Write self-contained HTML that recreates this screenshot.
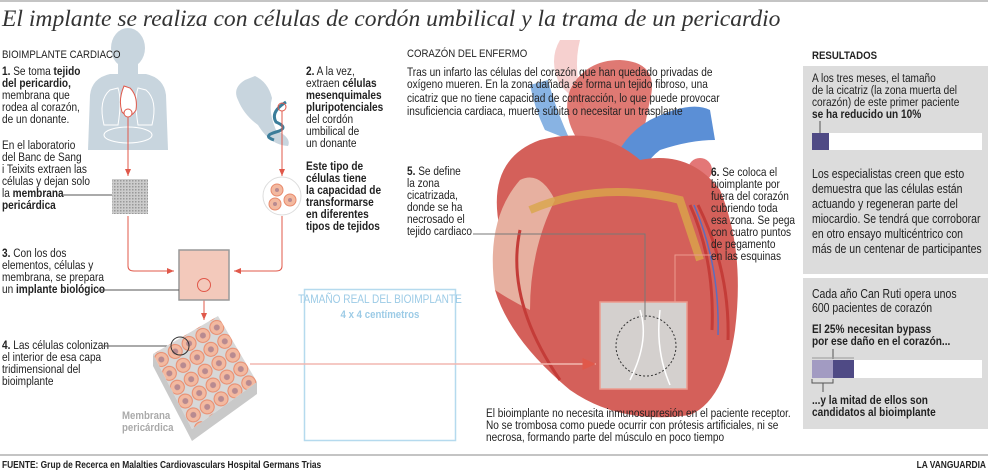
<!DOCTYPE html>
<html><head><meta charset="utf-8"><style>
body{margin:0;background:#fff;width:988px;height:471px;overflow:hidden}
svg{display:block}
text{font-family:"Liberation Sans",sans-serif;fill:#222}
.b{font-weight:bold}
</style></head><body>
<svg width="988" height="471" viewBox="0 0 988 471" xmlns="http://www.w3.org/2000/svg">
<defs>
<pattern id="hatch" width="3" height="3" patternUnits="userSpaceOnUse"><rect width="3" height="3" fill="#ccc"/><rect width="1.5" height="1.5" fill="#999"/></pattern>
<pattern id="cells" width="16" height="16" patternUnits="userSpaceOnUse" patternTransform="rotate(-30)"><rect width="16" height="16" fill="#d8d8d8"/><circle cx="8" cy="8" r="7" fill="#f3b9a0" stroke="#e88a6c"/><circle cx="8" cy="8" r="3" fill="#b88a90"/></pattern>
<marker id="ar" markerWidth="8" markerHeight="8" refX="7" refY="4" orient="auto"><path d="M0,1 L7,4 L0,7z" fill="#e0584a"/></marker>
<marker id="ap" markerWidth="10" markerHeight="10" refX="9" refY="5" orient="auto"><path d="M0,1 L9,5 L0,9z" fill="#e0584a"/></marker>
</defs>
<line x1="0" y1="1" x2="988" y2="1" stroke="#888"/>
<text x="2" y="26" style="font-family:'Liberation Serif',serif;font-style:italic;font-size:23.6px;fill:#333">El implante se realiza con células de cordón umbilical y la trama de un pericardio</text>

<g fill="#c8d5de">
<ellipse cx="128" cy="48" rx="17" ry="20"/>
<rect x="118" y="62" width="20" height="14"/>
<path d="M88,150 L90,95 Q92,78 110,74 L146,74 Q164,78 166,95 L168,150z"/>
</g>
<g fill="none" stroke="#fff" stroke-width="1">
<path d="M110,90 Q98,100 104,125 L118,125 Q122,100 118,88z"/><path d="M146,90 Q158,100 152,125 L138,125 Q134,100 138,88z"/>
<ellipse cx="128" cy="135" rx="24" ry="8"/>
</g>
<path d="M124,86 Q118,100 122,112 Q130,120 136,110 Q138,96 130,88z" fill="#fff" stroke="#e0584a"/>
<circle cx="128" cy="113" r="4" fill="#fff" stroke="#e0584a"/>
<path d="M245,80 Q232,88 238,100 Q244,115 258,125 Q270,145 288,146 Q292,138 276,130 Q268,112 272,98 Q268,82 255,76z" fill="#c8d5de"/>
<path d="M286,102 Q270,112 276,122 Q290,128 276,132 Q262,136 274,140" fill="none" stroke="#3b7d9a" stroke-width="3"/>
<circle cx="282" cy="107" r="4" fill="none" stroke="#e0584a"/>

<g transform="matrix(0.84 0 0 1 0.32 0)">
<text font-size="11.5"><tspan x="2" y="58">BIOIMPLANTE CARDIACO</tspan></text>
<text font-size="12">
<tspan x="2" y="75"><tspan class="b">1.</tspan> Se toma <tspan class="b">tejido</tspan></tspan>
<tspan x="2" y="87" class="b">del pericardio,</tspan>
<tspan x="2" y="99">membrana que</tspan>
<tspan x="2" y="111">rodea al corazón,</tspan>
<tspan x="2" y="123">de un donante.</tspan>
<tspan x="2" y="149">En el laboratorio</tspan>
<tspan x="2" y="161">del Banc de Sang</tspan>
<tspan x="2" y="173">i Teixits extraen las</tspan>
<tspan x="2" y="185">células y dejan solo</tspan>
<tspan x="2" y="197">la <tspan class="b">membrana</tspan></tspan>
<tspan x="2" y="209" class="b">pericárdica</tspan>
<tspan x="2" y="257"><tspan class="b">3.</tspan> Con los dos</tspan>
<tspan x="2" y="269">elementos, células y</tspan>
<tspan x="2" y="281">membrana, se prepara</tspan>
<tspan x="2" y="293">un <tspan class="b">implante biológico</tspan></tspan>
<tspan x="2" y="349"><tspan class="b">4.</tspan> Las células colonizan</tspan>
<tspan x="2" y="361">el interior de esa capa</tspan>
<tspan x="2" y="373">tridimensional del</tspan>
<tspan x="2" y="385">bioimplante</tspan>
</text>
</g>
<line x1="62" y1="195" x2="112" y2="195" stroke="#555"/>
<rect x="112" y="179" width="36" height="35" fill="url(#hatch)"/>

<g transform="matrix(0.84 0 0 1 48.96 0)">
<text font-size="12">
<tspan x="306" y="75"><tspan class="b">2.</tspan> A la vez,</tspan>
<tspan x="306" y="87">extraen <tspan class="b">células</tspan></tspan>
<tspan x="306" y="99" class="b">mesenquimales</tspan>
<tspan x="306" y="111" class="b">pluripotenciales</tspan>
<tspan x="306" y="123">del cordón</tspan>
<tspan x="306" y="135">umbilical de</tspan>
<tspan x="306" y="147">un donante</tspan>
<tspan x="306" y="170" class="b">Este tipo de</tspan>
<tspan x="306" y="182" class="b">células tiene</tspan>
<tspan x="306" y="194" class="b">la capacidad de</tspan>
<tspan x="306" y="206" class="b">transformarse</tspan>
<tspan x="306" y="218" class="b">en diferentes</tspan>
<tspan x="306" y="230" class="b">tipos de tejidos</tspan>
</text>
</g>
<circle cx="282" cy="196" r="19" fill="#fff" stroke="#ddd"/>
<g fill="#f3b9a0" stroke="#e88a6c"><circle cx="277" cy="190" r="6"/><circle cx="290" cy="200" r="6"/><circle cx="275" cy="204" r="6"/></g>
<g fill="#b88a90"><circle cx="277" cy="190" r="2"/><circle cx="290" cy="200" r="2"/><circle cx="275" cy="204" r="2"/></g>

<g stroke="#e0584a" fill="none" stroke-width="1">
<line x1="128" y1="117" x2="128" y2="176" marker-end="url(#ar)"/>
<line x1="282" y1="111" x2="282" y2="176" marker-end="url(#ar)"/>
<path d="M128,216 L128,266 Q128,271 134,271 L174,271" marker-end="url(#ar)"/>
<path d="M282,216 L282,266 Q282,271 276,271 L234,271" marker-end="url(#ar)"/>
<line x1="204" y1="292" x2="204" y2="320" marker-end="url(#ar)"/>
</g>
<rect x="179" y="250" width="50" height="50" fill="#f3c9bb" stroke="#999" stroke-width="1.5"/>
<circle cx="204" cy="285" r="6.5" fill="none" stroke="#e0584a"/>
<line x1="98" y1="290" x2="179" y2="290" stroke="#555"/>
<line x1="102" y1="346" x2="170" y2="346" stroke="#555"/>
<polygon points="153,354 153,366 192,441 257,394 257,382 192,429" fill="#c9c9c9"/>
<polygon points="153,354 218,316 257,382 192,429" fill="url(#cells)"/>
<circle cx="180" cy="346" r="9" fill="none" stroke="#333"/>
<g transform="matrix(0.84 0 0 1 19.52 0)">
<text font-size="11.5" class="b" style="fill:#aaa"><tspan x="122" y="419">Membrana</tspan><tspan x="122" y="431">pericárdica</tspan></text>
</g>

<rect x="304.5" y="289.5" width="151" height="151" fill="none" stroke="#b5daee" stroke-width="1.5"/>
<g transform="matrix(0.84 0 0 1 60.8 0)">
<text x="380" y="303" font-size="12" text-anchor="middle" style="fill:#9ccbe6">TAMAÑO REAL DEL BIOIMPLANTE</text>
<text x="380" y="318" font-size="11.5" text-anchor="middle" class="b" style="fill:#9ccbe6">4 x 4 centímetros</text>
</g>

<g>
<path d="M560,85 Q548,60 560,40 L580,40 Q572,70 585,110z" fill="#e88a88" opacity=".4"/>
<path d="M585,150 Q560,120 570,90 Q585,60 620,60 Q660,62 650,100 L640,150z" fill="#d9625a" opacity=".85"/>
<path d="M545,130 Q535,110 530,85 L548,80 Q556,110 570,140z" fill="#6aa0dc" opacity=".8"/>
<path d="M610,180 Q615,140 650,120 Q690,100 710,110 L715,140 Q690,140 660,150 Q640,165 640,190z" fill="#5b8fd6"/>
<circle cx="700" cy="170" r="12" fill="#e37777"/>
<path d="M500,230 Q485,160 540,140 Q600,125 640,160 Q690,150 720,190 Q745,250 735,330 Q725,400 690,415 Q620,425 570,390 Q510,340 495,290z" fill="#d4605a"/>
<path d="M495,290 Q485,220 520,180 Q540,170 555,200 Q530,250 530,310 Q510,300 495,290z" fill="#e7b0a0"/>
<path d="M530,210 Q600,180 680,200 Q690,230 700,260" fill="none" stroke="#d9a64a" stroke-width="8" opacity=".8"/>
<path d="M690,205 Q715,260 712,330 M698,205 Q730,270 728,340 M520,230 Q505,300 560,380" fill="none" stroke="#c43c38" stroke-width="3"/>
<path d="M694,205 Q720,265 718,335" fill="none" stroke="#5b6dbf" stroke-width="1.5"/>
</g>
<rect x="600" y="302" width="87" height="87" fill="#d4d0ce" stroke="#ec9a8e" stroke-width="1.5"/>
<circle cx="646" cy="346" r="30" fill="none" stroke="#333" stroke-dasharray="2,2"/>
<path d="M640,310 Q650,340 630,380 M660,310 Q655,350 670,385" fill="none" stroke="#fff" stroke-width="1.5"/>
<line x1="250" y1="364" x2="596" y2="364" stroke="#f2b7b0" stroke-width="1.5" marker-end="url(#ap)"/>
<path d="M473,234 L645,234 L645,320" fill="none" stroke="#777"/>
<path d="M711,255 L675,255 L675,302" fill="none" stroke="#ec9a8e"/>

<g transform="matrix(0.84 0 0 1 65.12 0)">
<text font-size="11.5"><tspan x="407" y="57">CORAZÓN DEL ENFERMO</tspan></text>
<text font-size="12">
<tspan x="407" y="76">Tras un infarto las células del corazón que han quedado privadas de</tspan>
<tspan x="407" y="88">oxígeno mueren. En la zona dañada se forma un tejido fibroso, una</tspan>
<tspan x="407" y="102">cicatriz que no tiene capacidad de contracción, lo que puede provocar</tspan>
<tspan x="407" y="115">insuficiencia cardiaca, muerte súbita o necesitar un trasplante</tspan>
<tspan x="407" y="175"><tspan class="b">5.</tspan> Se define</tspan>
<tspan x="407" y="187">la zona</tspan>
<tspan x="407" y="199">cicatrizada,</tspan>
<tspan x="407" y="211">donde se ha</tspan>
<tspan x="407" y="223">necrosado el</tspan>
<tspan x="407" y="235">tejido cardiaco</tspan>
</text>
</g>
<g transform="matrix(0.84 0 0 1 113.76 0)">
<text font-size="12">
<tspan x="711" y="176"><tspan class="b">6.</tspan> Se coloca el</tspan>
<tspan x="711" y="188">bioimplante por</tspan>
<tspan x="711" y="200">fuera del corazón</tspan>
<tspan x="711" y="212">cubriendo toda</tspan>
<tspan x="711" y="224">esa zona. Se pega</tspan>
<tspan x="711" y="236">con cuatro puntos</tspan>
<tspan x="711" y="248">de pegamento</tspan>
<tspan x="711" y="260">en las esquinas</tspan>
</text>
</g>
<g transform="matrix(0.84 0 0 1 77.76 0)">
<text font-size="12">
<tspan x="486" y="417">El bioimplante no necesita inmunosupresión en el paciente receptor.</tspan>
<tspan x="486" y="429">No se trombosa como puede ocurrir con prótesis artificiales, ni se</tspan>
<tspan x="486" y="441">necrosa, formando parte del músculo en poco tiempo</tspan>
</text>
</g>

<rect x="803" y="66" width="185" height="208" fill="#dcdcdc"/>
<rect x="803" y="278" width="185" height="151" fill="#dcdcdc"/>
<line x1="820" y1="121" x2="820" y2="133" stroke="#555"/>
<rect x="812" y="133" width="170" height="17" fill="#fff"/>
<rect x="812" y="133" width="17" height="17" fill="#4f4a85"/>
<line x1="833" y1="349" x2="833" y2="359" stroke="#555"/>
<line x1="812" y1="358" x2="854" y2="358" stroke="#999"/>
<rect x="812" y="360" width="170" height="18" fill="#fff"/>
<rect x="812" y="360" width="21" height="18" fill="#a29bc2"/>
<rect x="833" y="360" width="21" height="18" fill="#4f4a85"/>
<path d="M812,379 L812,383 L833,383 L833,379 M823,383 L823,392" fill="none" stroke="#555"/>
<g transform="matrix(0.84 0 0 1 129.92 0)">
<text x="812" y="59" font-size="11.5" class="b">RESULTADOS</text>
<text font-size="12">
<tspan x="812" y="82">A los tres meses, el tamaño</tspan>
<tspan x="812" y="94">de la cicatriz  (la zona muerta del</tspan>
<tspan x="812" y="106">corazón) de este primer paciente</tspan>
<tspan x="812" y="118" class="b">se ha reducido un 10%</tspan>
</text>
<text font-size="12.5">
<tspan x="812" y="178">Los especialistas creen que esto</tspan>
<tspan x="812" y="193">demuestra que las células están</tspan>
<tspan x="812" y="208">actuando y regeneran parte del</tspan>
<tspan x="812" y="223">miocardio. Se tendrá que corroborar</tspan>
<tspan x="812" y="238">en otro ensayo multicéntrico con</tspan>
<tspan x="812" y="253">más de un centenar de participantes</tspan>
</text>
<text font-size="12.5">
<tspan x="812" y="298">Cada año Can Ruti opera unos</tspan>
<tspan x="812" y="312">600 pacientes de corazón</tspan>
</text>
<text font-size="12" class="b">
<tspan x="812" y="333">El 25% necesitan bypass</tspan>
<tspan x="812" y="345">por ese daño en el corazón...</tspan>
<tspan x="812" y="404">...y la mitad de ellos son</tspan>
<tspan x="812" y="416">candidatos al bioimplante</tspan>
</text>
</g>

<line x1="0" y1="455" x2="988" y2="455" stroke="#888"/>
<g transform="matrix(0.84 0 0 1 0.32 0)">
<text x="2" y="468" font-size="10" class="b">FUENTE: Grup de Recerca en Malalties Cardiovasculars Hospital Germans Trias</text>
</g>
<g transform="matrix(0.84 0 0 1 157.76 0)">
<text x="986" y="468" font-size="10" class="b" text-anchor="end">LA VANGUARDIA</text>
</g>
</svg>
</body></html>
